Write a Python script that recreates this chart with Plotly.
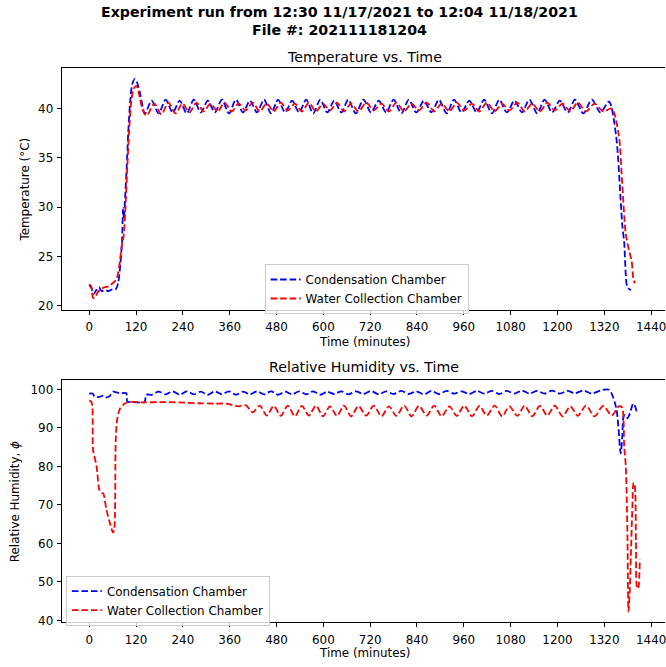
import plotly.graph_objects as go

W, H = 666, 667

# ---------------- Temperature data ----------------
temp_cond_t = [0, 6, 11, 18, 25, 32, 40, 50, 60, 68, 74, 80, 84, 87, 89, 92, 96, 100, 105, 110, 117, 123, 130, 143,
               160, 178, 196, 214, 232, 250, 268, 286, 304, 322, 340, 358, 376, 394, 412, 430, 448, 466, 484, 502,
               520, 538, 556, 574, 592, 610, 628, 646, 664, 683, 703, 722, 742, 761, 780, 800, 819, 838, 858, 877,
               896, 916, 935, 954, 974, 993, 1012, 1032, 1051, 1070, 1090, 1109, 1128, 1148, 1167, 1186, 1206, 1226,
               1245, 1266, 1288, 1310, 1332, 1350,
               1362, 1366, 1371, 1375, 1379, 1388, 1400, 1413]
temp_cond = [22.1, 21.8, 21.2, 21.6, 21.9, 21.5, 21.6, 21.5, 21.7, 21.7, 22.3, 24.3, 26.5, 29.9, 28.8, 31.0, 34.0, 37.5,
             40.7, 42.4, 43.0, 42.6, 41.6, 39.5,
             40.8, 39.5, 40.9, 39.6, 40.8, 39.5, 40.9, 39.6, 40.8, 39.6, 40.9, 39.5, 40.9, 39.6, 40.8, 39.6, 40.9, 39.5,
             40.9, 39.6, 40.8, 39.6, 40.9, 39.5, 40.9, 39.6, 40.8, 39.6, 40.9, 39.5, 40.9, 39.6, 40.8, 39.6, 40.9, 39.5,
             40.9, 39.6, 40.8, 39.6, 40.9, 39.5, 40.9, 39.6, 40.8, 39.6, 40.9, 39.5, 40.9, 39.6, 40.8, 39.6, 40.9, 39.5,
             40.9, 39.6, 40.8, 39.6, 40.9, 39.5, 40.9, 39.6,
             40.7, 37.3, 30.6, 28.2, 26.4, 23.2, 21.9, 21.6]

temp_wc_t = [0, 5, 10, 15, 22, 30, 40, 50, 60, 68, 74, 80, 85, 88, 93, 97, 102, 108, 114, 121, 127, 134, 141, 148,
             167, 185, 203, 221, 239, 257, 275, 293, 311, 329, 347, 365, 383, 401, 419, 437, 455, 473, 491, 509,
             527, 545, 563, 581, 599, 617, 635, 653, 671, 690, 710, 729, 749, 768, 787, 807, 826, 845, 865, 884,
             903, 923, 942, 961, 981, 1000, 1019, 1039, 1058, 1077, 1097, 1116, 1135, 1155, 1174, 1193, 1213, 1233,
             1252, 1273, 1295, 1317, 1339, 1357,
             1366, 1375, 1384, 1390, 1395, 1399, 1409, 1413]
temp_wc = [22.2, 22.0, 20.8, 20.9, 21.4, 21.7, 21.9, 22.0, 22.3, 22.6, 23.3, 25.0, 26.5, 27.0, 30.0, 33.5, 37.5, 40.8,
           42.0, 42.3, 41.6, 40.3, 39.5, 39.3,
           40.5, 39.4, 40.6, 39.5, 40.5, 39.6, 40.6, 39.7, 40.5, 39.7, 40.6, 39.7, 40.5, 39.8, 40.6, 39.7, 40.5, 39.7,
           40.6, 39.8, 40.5, 39.7, 40.6, 39.7, 40.5, 39.8, 40.6, 39.7, 40.5, 39.7, 40.6, 39.8, 40.5, 39.7, 40.6, 39.7,
           40.5, 39.8, 40.6, 39.7, 40.5, 39.7, 40.6, 39.8, 40.5, 39.7, 40.6, 39.7, 40.5, 39.8, 40.6, 39.7, 40.5, 39.7,
           40.6, 39.8, 40.5, 39.7, 40.6, 39.7, 40.5, 39.7,
           40.0, 37.3, 32.3, 27.3, 25.5, 24.6, 22.6, 22.3]

# ---------------- Relative humidity data ----------------
rh_cond_t = [0, 9, 14, 24, 31, 37, 45, 53, 61, 70, 80, 95, 98, 110, 125, 142, 146,
             160, 178, 196, 214, 232, 250, 268, 286, 304, 322, 340, 358, 376, 394, 412, 430, 448, 466, 484, 502,
             520, 538, 556, 574, 592, 610, 628, 646, 664, 683, 703, 722, 742, 761, 780, 800, 819, 838, 858, 877,
             896, 916, 935, 954, 974, 993, 1012, 1032, 1051, 1070, 1090, 1109, 1128, 1148, 1167, 1186, 1206, 1226,
             1245, 1266, 1288, 1310, 1332, 1350,
             1362, 1366, 1369, 1373, 1379, 1384, 1388, 1394, 1399, 1403, 1409, 1413]
rh_cond = [98.9, 98.9, 98.1, 98.0, 98.2, 98.4, 97.9, 98.3, 99.4, 99.2, 99.0, 99.0, 96.8, 96.7, 96.6, 96.7, 98.6,
           98.6, 99.4, 98.7, 99.5, 98.6, 99.5, 98.7, 99.4, 98.6, 99.5, 98.7, 99.5, 98.6, 99.4, 98.7, 99.5, 98.7, 99.5,
           98.6, 99.4, 98.7, 99.5, 98.7, 99.5, 98.6, 99.4, 98.8, 99.5, 98.7, 99.5, 98.8, 99.6, 98.7, 99.5, 98.8, 99.6,
           98.8, 99.5, 98.7, 99.6, 98.8, 99.6, 98.9, 99.5, 98.8, 99.6, 98.9, 99.6, 98.8, 99.6, 98.9, 99.7, 98.9, 99.6,
           98.9, 99.7, 98.9, 99.6, 99.0, 99.7, 98.9, 99.7,
           99.9, 95.4, 83.4, 87.7, 92.8, 93.4, 92.5, 93.3, 94.6, 96.3, 95.6, 94.1]

rh_wc_t = [0, 6, 10, 19, 26, 32, 36, 44, 53, 61, 64, 68, 72, 79, 91, 100, 140, 180, 230, 280, 320, 350, 366, 383, 401,
           419, 437, 455, 473, 491, 509, 527, 545, 563, 581, 599, 617, 635, 653, 671, 690, 710, 729, 749, 768,
           787, 807, 826, 845, 865, 884, 903, 923, 942, 961, 981, 1000, 1019, 1039, 1058, 1077, 1097, 1116, 1135,
           1155, 1174, 1193, 1213, 1233, 1252, 1273, 1295, 1317, 1339, 1357,
           1365, 1371, 1375, 1379, 1382, 1385, 1388, 1392, 1395, 1397, 1401, 1403, 1406, 1408, 1411]
rh_wc = [97.1, 96.7, 84.3, 80.0, 73.9, 73.1, 73.0, 68.8, 65.3, 62.8, 63.5, 86.8, 92.4, 95.0, 96.3, 96.7, 96.6, 96.7,
         96.6, 96.4, 96.3, 96.3, 96.0, 95.6, 95.9,
         94.0, 95.8, 93.2, 95.7, 93.1, 95.8, 93.0, 95.7, 93.2, 95.8, 93.0, 95.6, 93.1, 95.8, 93.0, 95.7, 93.2, 95.8,
         93.0, 95.6, 93.1, 95.8, 93.0, 95.7, 93.2, 95.8, 93.0, 95.6, 93.1, 95.8, 93.0, 95.7, 93.2, 95.8, 93.0, 95.6,
         93.1, 95.8, 93.0, 95.7, 93.2, 95.8, 93.0, 95.6, 93.1, 95.8, 93.0, 95.7, 93.2, 95.6,
         95.4, 85.1, 80.0, 63.6, 42.3, 47.3, 56.8, 69.6, 75.7, 75.6, 60.2, 49.0, 48.2, 48.8, 55.9]

series_names = ["Condensation Chamber", "Water Collection Chamber"]
x_ticks = [0, 120, 240, 360, 480, 600, 720, 840, 960, 1080, 1200, 1320, 1440]
temp_ticks = [20, 25, 30, 35, 40]
rh_ticks = [40, 50, 60, 70, 80, 90, 100]

FONT = "DejaVu Sans"
FS = 11.9      # 10 pt text
FT = 14.2      # 12 pt titles
DASH = "6.6px,2.9px"
LW = 1.8


def px(x):
    return x / W


def py(y):
    return 1 - y / H


fig = go.Figure()
fig.add_trace(go.Scatter(x=temp_cond_t, y=temp_cond, name=series_names[0], mode="lines",
                         line=dict(color="#0000ff", dash=DASH, width=LW, shape="spline", smoothing=0.8),
                         xaxis="x", yaxis="y", legend="legend"))
fig.add_trace(go.Scatter(x=temp_wc_t, y=temp_wc, name=series_names[1], mode="lines",
                         line=dict(color="#ff0000", dash=DASH, width=LW, shape="spline", smoothing=0.8),
                         xaxis="x", yaxis="y", legend="legend"))
fig.add_trace(go.Scatter(x=rh_cond_t, y=rh_cond, name=series_names[0], mode="lines",
                         line=dict(color="#0000ff", dash=DASH, width=LW, shape="spline", smoothing=0.8),
                         xaxis="x2", yaxis="y2", legend="legend2"))
fig.add_trace(go.Scatter(x=rh_wc_t, y=rh_wc, name=series_names[1], mode="lines",
                         line=dict(color="#ff0000", dash=DASH, width=LW, shape="spline", smoothing=0.8),
                         xaxis="x2", yaxis="y2", legend="legend2"))

axis_common = dict(showgrid=False, zeroline=False, showline=True, linecolor="black", linewidth=1,
                   ticks="outside", ticklen=4, tickwidth=1, tickcolor="black", ticklabeloverflow="allow",
                   tickfont=dict(family=FONT, size=FS, color="black"))
xr = [-70.7, 1475.5]
xdom = [px(61.7), 1]
leg_common = dict(xanchor="left", yanchor="top", bgcolor="rgba(255,255,255,0.8)",
                  bordercolor="#cccccc", borderwidth=1, font=dict(family=FONT, size=FS, color="black"),
                  tracegroupgap=0)
fig.update_layout(
    width=W, height=H, margin=dict(l=0, r=0, t=0, b=0),
    paper_bgcolor="white", plot_bgcolor="white",
    font=dict(family=FONT, size=FS, color="black"),
    xaxis=dict(domain=xdom, range=xr, tickvals=x_ticks, mirror=True, anchor="y", ticklabelstandoff=2,
               **axis_common),
    yaxis=dict(domain=[py(312.4), py(68.4)], range=[19.585, 44.115], tickvals=temp_ticks, anchor="x",
               ticklabelstandoff=1, **axis_common),
    xaxis2=dict(domain=xdom, range=xr, tickvals=x_ticks, mirror=True, anchor="y2", ticklabelstandoff=2,
                **axis_common),
    yaxis2=dict(domain=[py(627), py(383)], range=[39.5, 102.4], tickvals=rh_ticks, anchor="x2",
                ticklabelstandoff=1, **axis_common),
    legend=dict(x=px(265), y=py(266), **leg_common),
    legend2=dict(x=px(66), y=py(580), **leg_common),
    showlegend=True,
)


def ann(text, x, y, size=FS, angle=0, bold=False):
    fig.add_annotation(text=f"<b>{text}</b>" if bold else text, x=px(x), y=py(y), xref="paper", yref="paper",
                       showarrow=False, textangle=angle, xanchor="center", yanchor="middle",
                       font=dict(family=FONT, size=size, color="black"))


ann("Experiment run from 12:30 11/17/2021 to 12:04 11/18/2021", 340, 12, size=FT, bold=True)
ann("File #: 202111181204", 340, 30, size=FT, bold=True)
ann("Temperature vs. Time", 365, 57, size=FT)
ann("Relative Humidity vs. Time", 365, 370, size=FT)
ann("Time (minutes)", 365, 345)
ann("Time (minutes)", 365, 658)
ann("Temperature (°C)", 25, 191, angle=-90)
ann("Relative Humidity, <i>ϕ</i>", 15, 505, angle=-90)

fig.write_html("out.html")
